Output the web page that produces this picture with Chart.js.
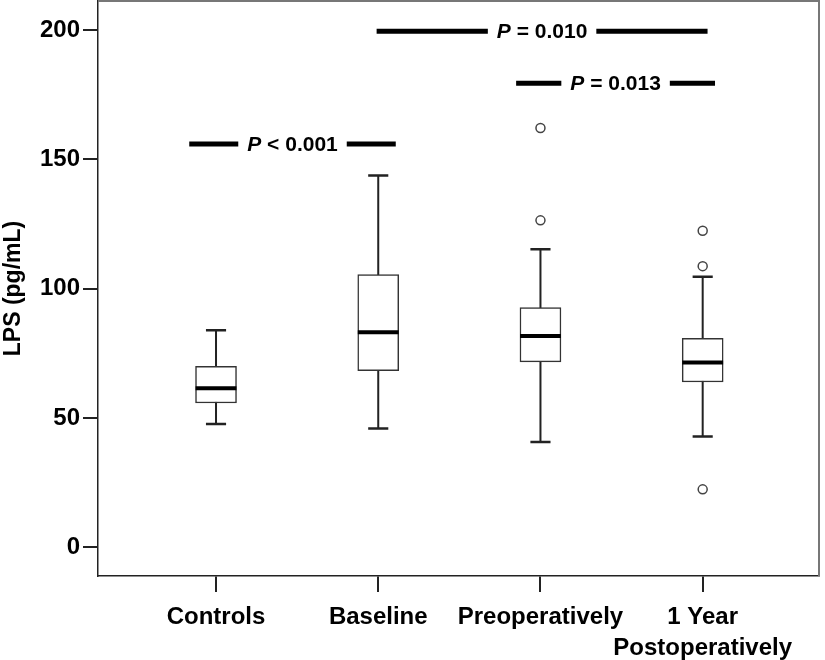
<!DOCTYPE html>
<html>
<head>
<meta charset="utf-8">
<script src="https://cdn.jsdelivr.net/npm/chart.js@4/dist/chart.umd.min.js"></script>
<style>
  body { margin: 0; background: #fff; }
  canvas { display: block; }
</style>
</head>
<body>
<canvas id="lps-chart" width="825" height="660"></canvas>
<script>
// Data
const categories = ['Controls', 'Baseline', 'Preoperatively', ['1 Year', 'Postoperatively']];
const whiskerLow = [47.7, 45.9, 40.7, 42.8];
const q1 = [55.8, 68.3, 71.7, 63.9];
const median = [61.5, 83.1, 81.7, 71.4];
const q3 = [70.0, 105.4, 92.7, 80.8];
const whiskerHigh = [83.9, 143.7, 115.2, 104.6];
const outliers = [[], [], [162.1, 126.4], [122.4, 108.7, 22.4]];
const yTicks = [0, 50, 100, 150, 200];

// Significance brackets
const compLabels = ['< 0.001', '= 0.010', '= 0.013'];
const compY = [155.9, 199.5, 179.4];
const compStart = [0.835, 1.99, 2.85];
const compEnd = [2.108, 4.03, 4.076];

const FONT = "'Liberation Sans', Arial, sans-serif";
const BOX_HALF = 0.126;   // in x units
const CAP_HALF = 0.062;

// Build line segments (null breaks the line)
function segments(fn) {
    const pts = [];
    categories.forEach((c, i) => {
        fn(i).forEach(p => pts.push(p));
        pts.push({ x: null, y: null });
    });
    return pts;
}

const whiskerData = segments(i => [{ x: i + 1, y: whiskerLow[i] }, { x: i + 1, y: whiskerHigh[i] }]);
const capData = segments(i => [
    { x: i + 1 - CAP_HALF, y: whiskerLow[i] }, { x: i + 1 + CAP_HALF, y: whiskerLow[i] },
    { x: null, y: null },
    { x: i + 1 - CAP_HALF, y: whiskerHigh[i] }, { x: i + 1 + CAP_HALF, y: whiskerHigh[i] }
]);
const medianData = segments(i => [{ x: i + 1 - BOX_HALF, y: median[i] }, { x: i + 1 + BOX_HALF, y: median[i] }]);
const boxData = categories.map((c, i) => ({ x: i + 1, y: [q1[i], q3[i]] }));
const outlierData = [];
outliers.forEach((list, i) => list.forEach(v => outlierData.push({ x: i + 1, y: v })));

// Frame: top and right borders
const framePlugin = {
    id: 'frame',
    afterDraw(chart) {
        const { ctx, chartArea: a } = chart;
        ctx.save();
        ctx.strokeStyle = '#777';
        ctx.lineWidth = 2;
        ctx.beginPath();
        ctx.moveTo(a.left, a.top);
        ctx.lineTo(a.right, a.top);
        ctx.lineTo(a.right, a.bottom);
        ctx.stroke();
        ctx.restore();
    }
};

// Significance lines with P text
const compPlugin = {
    id: 'comparisons',
    afterDatasetsDraw(chart) {
        const { ctx, scales: { x, y } } = chart;
        ctx.save();
        compLabels.forEach((label, i) => {
            const x1 = x.getPixelForValue(compStart[i]);
            const x2 = x.getPixelForValue(compEnd[i]);
            const py = y.getPixelForValue(compY[i]);
            const cx = (x1 + x2) / 2;
            const italic = `italic bold 21px ${FONT}`;
            const bold = `bold 21px ${FONT}`;
            ctx.font = italic;
            const wP = ctx.measureText('P').width;
            ctx.font = bold;
            const rest = ' ' + label;
            const wRest = ctx.measureText(rest).width;
            const w = wP + wRest;
            const pad = 9;
            ctx.strokeStyle = '#000';
            ctx.lineWidth = 5;
            ctx.beginPath();
            ctx.moveTo(x1, py);
            ctx.lineTo(cx - w / 2 - pad, py);
            ctx.moveTo(cx + w / 2 + pad, py);
            ctx.lineTo(x2, py);
            ctx.stroke();
            ctx.fillStyle = '#000';
            ctx.textBaseline = 'middle';
            ctx.textAlign = 'left';
            ctx.font = italic;
            ctx.fillText('P', cx - w / 2, py + 1);
            ctx.font = bold;
            ctx.fillText(rest, cx - w / 2 + wP, py + 1);
        });
        ctx.restore();
    }
};

const chart = new Chart(document.getElementById('lps-chart'), {
    type: 'scatter',
    data: {
        datasets: [
            {
                type: 'scatter', data: whiskerData, showLine: true, spanGaps: false,
                borderColor: '#222', borderWidth: 2, pointRadius: 0, order: 4
            },
            {
                type: 'bar', data: boxData, barThickness: 41, backgroundColor: '#fff',
                borderColor: '#333', borderWidth: 1.5, borderSkipped: false, order: 3
            },
            {
                type: 'scatter', data: capData, showLine: true, spanGaps: false,
                borderColor: '#222', borderWidth: 2.5, pointRadius: 0, order: 2
            },
            {
                type: 'scatter', data: medianData, showLine: true, spanGaps: false,
                borderColor: '#000', borderWidth: 4, pointRadius: 0, order: 1
            },
            {
                type: 'scatter', data: outlierData, pointStyle: 'circle', pointRadius: 4.5,
                borderColor: '#444', borderWidth: 1.5, backgroundColor: '#fff', order: 0
            }
        ]
    },
    options: {
        responsive: false,
        animation: false,
        layout: { padding: { top: 1, right: 6, left: 0, bottom: 0 }, autoPadding: false },
        plugins: { legend: { display: false }, tooltip: { enabled: false } },
        scales: {
            x: {
                type: 'linear',
                min: 0.2725,
                max: 4.717,
                offset: false,
                afterBuildTicks: scale => { scale.ticks = categories.map((c, i) => ({ value: i + 1 })); },
                afterFit: scale => {
                    scale.height = 84;
                    scale.paddingLeft = 0;
                    scale.paddingRight = 0;
                },
                ticks: {
                    autoSkip: false,
                    maxRotation: 0,
                    padding: 10,
                    color: '#000',
                    font: { family: FONT, size: 24, weight: 'bold', lineHeight: 1.3 },
                    callback: value => categories[value - 1]
                },
                grid: { drawOnChartArea: false, offset: false, tickLength: 16, color: '#222', lineWidth: 2 },
                border: { color: '#222', width: 1.5 }
            },
            y: {
                min: -11.1,
                max: 211.2,
                afterBuildTicks: scale => { scale.ticks = yTicks.map(v => ({ value: v })); },
                afterFit: scale => {
                    scale.width = 98;
                    scale.paddingTop = 0;
                    scale.paddingBottom = 0;
                },
                ticks: {
                    padding: 3,
                    color: '#000',
                    font: { family: FONT, size: 24, weight: 'bold' }
                },
                grid: { drawOnChartArea: false, tickLength: 15, color: '#222', lineWidth: 2 },
                border: { color: '#222', width: 1.5 },
                title: {
                    display: true,
                    text: 'LPS (pg/mL)',
                    color: '#000',
                    padding: 0,
                    font: { family: FONT, size: 23, weight: 'bold' }
                }
            }
        }
    },
    plugins: [framePlugin, compPlugin]
});
</script>
</body>
</html>
